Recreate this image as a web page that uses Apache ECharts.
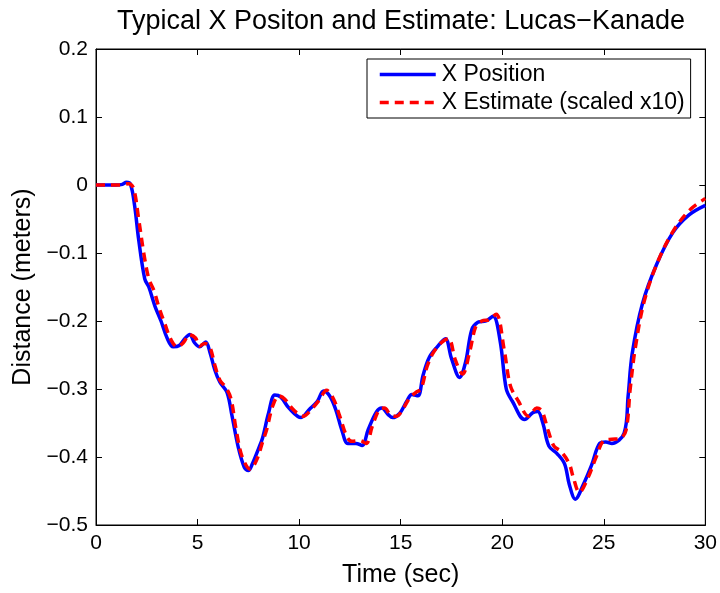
<!DOCTYPE html>
<html><head><meta charset="utf-8">
<script src="https://cdn.jsdelivr.net/npm/echarts@6/dist/echarts.min.js"></script>
<style>html,body{margin:0;padding:0;background:#fff}#c{width:720px;height:593px}</style>
</head><body><div id="c"></div>
<script>
const titleText = "Typical X Positon and Estimate: Lucas\u2212Kanade";
const xName = "Time (sec)";
const yName = "Distance (meters)";
const seriesNames = ["X Position", "X Estimate (scaled x10)"];
const xTicks = [0, 5, 10, 15, 20, 25, 30];
const yTicks = [-0.5, -0.4, -0.3, -0.2, -0.1, 0, 0.1, 0.2];

const posT = [0,1.0,1.3,1.5,1.7,1.9,2.1,2.4,2.6,2.9,3.2,3.5,3.8,4.1,4.4,4.62,4.85,5.1,5.4,5.6,5.85,6.1,6.45,6.7,7.0,7.3,7.5,7.7,8.0,8.2,8.5,8.8,9.1,9.5,10.1,10.5,10.9,11.2,11.5,11.8,12.1,12.4,12.8,13.1,13.4,13.8,14.07,14.4,14.6,14.95,15.3,15.55,15.85,16.1,16.4,16.8,17.2,17.5,17.9,18.2,18.5,18.8,19.2,19.55,19.9,20.2,20.5,21.1,21.5,21.75,22.0,22.3,22.7,23.07,23.3,23.6,24.0,24.4,24.8,25.1,25.4,26.0,26.2,26.4,26.9,27.6,28.4,29.2,30];
const posY = [0,0,0.001,0.004,0.001,-0.03,-0.08,-0.138,-0.15,-0.178,-0.2,-0.225,-0.238,-0.236,-0.225,-0.22,-0.232,-0.238,-0.231,-0.245,-0.272,-0.29,-0.305,-0.34,-0.385,-0.415,-0.42,-0.41,-0.388,-0.372,-0.335,-0.309,-0.312,-0.328,-0.342,-0.33,-0.318,-0.303,-0.31,-0.33,-0.36,-0.38,-0.38,-0.383,-0.36,-0.334,-0.328,-0.338,-0.342,-0.336,-0.318,-0.308,-0.31,-0.28,-0.254,-0.238,-0.226,-0.255,-0.283,-0.26,-0.213,-0.202,-0.2,-0.193,-0.23,-0.3,-0.318,-0.345,-0.335,-0.333,-0.35,-0.384,-0.395,-0.41,-0.44,-0.462,-0.44,-0.412,-0.38,-0.378,-0.38,-0.365,-0.31,-0.248,-0.175,-0.117,-0.07,-0.044,-0.03];

const estT = [0,1.2,1.6,1.85,2.1,2.35,2.6,2.85,3.1,3.4,3.7,4.0,4.3,4.6,4.9,5.1,5.35,5.6,5.85,6.1,6.4,6.65,6.9,7.2,7.6,7.9,8.2,8.4,8.7,9.0,9.3,9.7,10.2,10.6,11.0,11.35,11.7,12.0,12.35,12.6,13.0,13.3,13.6,13.95,14.2,14.5,14.8,15.1,15.45,15.75,16.0,16.3,16.6,17.0,17.35,17.7,18.05,18.4,18.7,19.0,19.35,19.7,20.1,20.4,20.8,21.3,21.7,21.95,22.25,22.55,22.9,23.3,23.5,23.8,24.2,24.6,25.0,25.4,25.8,26.1,26.3,26.55,27.0,27.7,28.5,29.3,30];
const estY = [0,0,0.002,-0.005,-0.05,-0.1,-0.138,-0.155,-0.18,-0.205,-0.228,-0.238,-0.232,-0.22,-0.225,-0.237,-0.233,-0.238,-0.265,-0.287,-0.298,-0.315,-0.36,-0.4,-0.418,-0.405,-0.378,-0.36,-0.325,-0.31,-0.315,-0.33,-0.34,-0.33,-0.316,-0.302,-0.315,-0.34,-0.37,-0.377,-0.376,-0.38,-0.355,-0.33,-0.328,-0.338,-0.34,-0.33,-0.313,-0.305,-0.3,-0.267,-0.247,-0.232,-0.226,-0.258,-0.278,-0.245,-0.208,-0.2,-0.198,-0.19,-0.243,-0.295,-0.318,-0.34,-0.328,-0.332,-0.36,-0.384,-0.392,-0.41,-0.43,-0.452,-0.432,-0.402,-0.376,-0.374,-0.373,-0.36,-0.3,-0.24,-0.17,-0.11,-0.064,-0.035,-0.02];

const FONT = "Liberation Sans";
const fmt = v => { const r = Math.round(v*10)/10; return (r === 0 ? "0" : String(r)).replace("-", "\u2212"); };
const tickStyle = {show:true, inside:true, length:6, lineStyle:{color:"#000", width:1}};
const chart = echarts.init(document.getElementById("c"));
chart.setOption({
  backgroundColor: "#fff",
  animation: false,
  title: {text: titleText, left: 396, textAlign: "center", top: 3,
          textStyle: {fontFamily: FONT, fontSize: 27, fontWeight: "normal", color: "#000"}},
  grid: {left: 96, right: 14, top: 49, bottom: 68, show: true, borderColor: "#000", borderWidth: 1},
  legend: {
    orient: "vertical", left: 367, top: 59,
    backgroundColor: "#fff", borderColor: "#000", borderWidth: 1,
    padding: [4, 6, 4, 11], itemGap: 5, itemWidth: 56, itemHeight: 20,
    itemStyle: {opacity: 0},
    lineStyle: {width: 3.5},
    textStyle: {fontFamily: FONT, fontSize: 23, color: "#000", padding: [0,0,0,1]},
    data: seriesNames
  },
  xAxis: [
    {type: "value", min: 0, max: 30, interval: 5, name: xName, nameLocation: "middle", nameGap: 38,
     nameTextStyle: {fontFamily: FONT, fontSize: 25, color: "#000"},
     axisLine: {show: true, onZero: false, lineStyle: {color: "#000"}},
     axisTick: tickStyle, splitLine: {show: false},
     axisLabel: {fontFamily: FONT, fontSize: 21, color: "#000", margin: 8, formatter: v => xTicks.includes(v) ? fmt(v) : ""}},
    {type: "value", position: "top", min: 0, max: 30, interval: 5,
     axisLine: {show: true, onZero: false, lineStyle: {color: "#000"}},
     axisTick: tickStyle, axisLabel: {show: false}, splitLine: {show: false}}
  ],
  yAxis: [
    {type: "value", min: -0.5, max: 0.2, interval: 0.1, name: yName, nameLocation: "middle", nameGap: 56,
     nameTextStyle: {fontFamily: FONT, fontSize: 25, color: "#000"},
     axisLine: {show: true, onZero: false, lineStyle: {color: "#000"}},
     axisTick: tickStyle, splitLine: {show: false},
     axisLabel: {fontFamily: FONT, fontSize: 21, color: "#000", margin: 8, formatter: v => fmt(v)}},
    {type: "value", position: "right", min: -0.5, max: 0.2, interval: 0.1,
     axisLine: {show: true, onZero: false, lineStyle: {color: "#000"}},
     axisTick: tickStyle, axisLabel: {show: false}, splitLine: {show: false}}
  ],
  series: [
    {name: seriesNames[0], type: "line", smooth: 0.35, symbol: "none",
     lineStyle: {color: "#0000ff", width: 3.5}, itemStyle: {color: "#0000ff"},
     data: posT.map((t, i) => [t, posY[i]])},
    {name: seriesNames[1], type: "line", smooth: 0.35, symbol: "none",
     lineStyle: {color: "#ff0000", width: 3.5, type: [9, 6]}, itemStyle: {color: "#ff0000"},
     data: estT.map((t, i) => [t, estY[i]])}
  ]
});
</script></body></html>
